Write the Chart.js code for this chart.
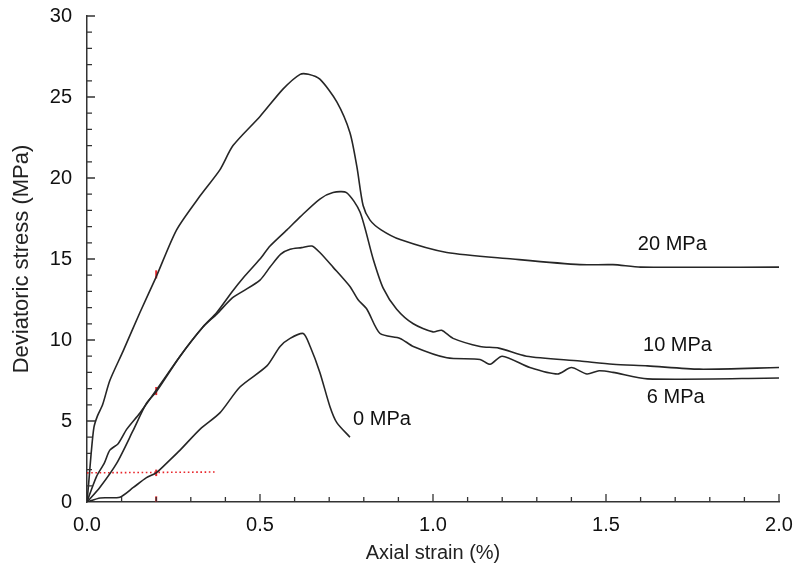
<!DOCTYPE html>
<html>
<head>
<meta charset="utf-8">
<script src="https://cdn.jsdelivr.net/npm/chart.js@4/dist/chart.umd.min.js"></script>
<style>
  html, body { margin: 0; padding: 0; background: #fff; }
  #wrap { width: 797px; height: 571px; }
</style>
</head>
<body>
<div id="wrap"><canvas id="chart"></canvas></div>
<script>
// values: axial strain (%) vs deviatoric stress (MPa)
const strain20 = [0, 0.005, 0.012, 0.02, 0.03, 0.045, 0.066, 0.104, 0.153, 0.2, 0.259, 0.327, 0.384, 0.422, 0.5, 0.567, 0.616, 0.64, 0.673, 0.722, 0.76, 0.78, 0.798, 0.818, 0.85, 0.905, 1.04, 1.23, 1.425, 1.52, 1.6, 2.0];
const stress20 = [0, 1.2, 3.0, 4.6, 5.3, 6.0, 7.5, 9.3, 11.7, 13.9, 16.8, 18.9, 20.5, 22.0, 23.8, 25.5, 26.4, 26.4, 26.1, 24.7, 22.8, 20.7, 18.3, 17.4, 16.8, 16.2, 15.4, 15.0, 14.65, 14.65, 14.5, 14.5];

const strain10 = [0, 0.01, 0.028, 0.05, 0.066, 0.09, 0.115, 0.153, 0.2, 0.269, 0.335, 0.375, 0.42, 0.45, 0.5, 0.529, 0.578, 0.616, 0.673, 0.711, 0.75, 0.789, 0.827, 0.856, 0.895, 0.943, 1.0, 1.025, 1.058, 1.136, 1.19, 1.27, 1.425, 1.52, 1.62, 1.77, 2.0];
const stress10 = [0, 0.6, 1.6, 2.4, 3.2, 3.6, 4.5, 5.5, 6.9, 9.0, 10.8, 11.7, 13.0, 13.8, 15.0, 15.8, 16.8, 17.6, 18.7, 19.1, 19.1, 17.9, 15.0, 13.2, 11.9, 11.0, 10.5, 10.6, 10.1, 9.6, 9.5, 9.0, 8.7, 8.5, 8.4, 8.2, 8.3];

const strain6 = [0, 0.037, 0.086, 0.133, 0.172, 0.2, 0.269, 0.335, 0.375, 0.42, 0.45, 0.5, 0.529, 0.56, 0.587, 0.62, 0.65, 0.673, 0.711, 0.76, 0.783, 0.809, 0.847, 0.905, 0.943, 1.04, 1.136, 1.165, 1.2, 1.28, 1.36, 1.4, 1.445, 1.48, 1.52, 1.62, 2.0];
const stress6 = [0, 0.9, 2.4, 4.4, 6.1, 6.8, 9.0, 10.8, 11.6, 12.6, 13.0, 13.7, 14.5, 15.3, 15.6, 15.7, 15.8, 15.4, 14.5, 13.3, 12.5, 11.9, 10.4, 10.1, 9.6, 8.9, 8.8, 8.5, 9.0, 8.3, 7.9, 8.3, 7.9, 8.1, 8.0, 7.6, 7.65];

const strain0 = [0, 0.038, 0.095, 0.134, 0.172, 0.2, 0.24, 0.269, 0.327, 0.384, 0.442, 0.52, 0.558, 0.587, 0.625, 0.645, 0.673, 0.702, 0.722, 0.76];
const stress0 = [0, 0.25, 0.3, 0.9, 1.5, 1.8, 2.6, 3.2, 4.5, 5.5, 7.1, 8.4, 9.6, 10.1, 10.4, 9.6, 8.0, 5.9, 4.9, 4.0];

// curve labels and where they sit
const curveLabels = ['20 MPa', '10 MPa', '6 MPa', '0 MPa'];
const labelStrain = [1.592, 1.607, 1.618, 0.769];
const labelStress = [15.9, 9.65, 6.43, 5.07];

// red reference marks (strain 0.2 %)
const refLineStrain = [0, 0.37];
const refLineStress = [1.8, 1.85];
const markStrain = 0.2;
const markStress = [[13.8, 14.3], [6.6, 7.1], [1.6, 2.0], [0, 0.35]];

function pts(xs, ys) {
    return xs.map((x, i) => ({ x: x, y: ys[i] }));
}

const curveStyle = { showLine: true, pointRadius: 0, borderColor: '#262626', borderWidth: 1.6, tension: 0.25, fill: false };

const datasets = [
    Object.assign({ label: '20 MPa', data: pts(strain20, stress20) }, curveStyle),
    Object.assign({ label: '10 MPa', data: pts(strain10, stress10) }, curveStyle),
    Object.assign({ label: '6 MPa', data: pts(strain6, stress6) }, curveStyle),
    Object.assign({ label: '0 MPa', data: pts(strain0, stress0) }, curveStyle),
    { label: 'ref', data: pts(refLineStrain, refLineStress), showLine: true, pointRadius: 0, borderColor: '#e8262b', borderWidth: 1.6, borderDash: [1.6, 2.6], tension: 0 }
];
markStress.forEach(function (m) {
    datasets.push({ label: 'mark', data: [{ x: markStrain, y: m[0] }, { x: markStrain, y: m[1] }], showLine: true, pointRadius: 0, borderColor: '#e8262b', borderWidth: 2, tension: 0 });
});

const fontFam = '"Liberation Sans", Arial, sans-serif';

// inward ticks and curve labels
const extras = {
    id: 'extras',
    afterDraw(chart) {
        const ctx = chart.ctx;
        const xs = chart.scales.x, ys = chart.scales.y;
        const x0 = xs.getPixelForValue(0), y0 = ys.getPixelForValue(0);
        ctx.save();
        ctx.strokeStyle = '#333';
        ctx.lineWidth = 1.3;
        ctx.beginPath();
        for (let i = 1; i <= 20; i++) {
            const px = xs.getPixelForValue(i / 10);
            const len = (i % 5 === 0) ? 8 : 5;
            ctx.moveTo(px, y0);
            ctx.lineTo(px, y0 - len);
        }
        for (let j = 1; j <= 30; j++) {
            const py = ys.getPixelForValue(j);
            const len = (j % 5 === 0) ? 8 : 5;
            ctx.moveTo(x0, py);
            ctx.lineTo(x0 + len, py);
        }
        ctx.stroke();

        ctx.fillStyle = '#111';
        ctx.font = '20px ' + fontFam;
        ctx.textAlign = 'left';
        ctx.textBaseline = 'middle';
        curveLabels.forEach(function (t, i) {
            ctx.fillText(t, xs.getPixelForValue(labelStrain[i]), ys.getPixelForValue(labelStress[i]));
        });
        ctx.restore();
    }
};

const ctx = document.getElementById('chart').getContext('2d');
new Chart(ctx, {
    type: 'scatter',
    data: { datasets: datasets },
    options: {
        responsive: true,
        maintainAspectRatio: false,
        animation: false,
        layout: { padding: { top: 16, right: 18, left: 0, bottom: 0 } },
        plugins: { legend: { display: false }, tooltip: { enabled: false } },
        scales: {
            x: {
                type: 'linear', min: 0, max: 2.0,
                afterFit: function (s) { s.height = 69; s.paddingLeft = 0; s.paddingRight = 0; },
                grid: { display: false, drawTicks: false },
                border: { display: true, color: '#333', width: 1.5 },
                ticks: {
                    stepSize: 0.5, padding: 11, color: '#111',
                    font: { family: fontFam, size: 20 },
                    callback: function (v) { return v.toFixed(1); }
                },
                title: {
                    display: true, text: 'Axial strain (%)', color: '#222',
                    font: { family: fontFam, size: 20 },
                    padding: { top: 0, bottom: 6 }
                }
            },
            y: {
                type: 'linear', min: 0, max: 30,
                afterFit: function (s) { s.width = 87; s.paddingTop = 0; s.paddingBottom = 0; },
                grid: { display: false, drawTicks: false },
                border: { display: true, color: '#333', width: 1.5 },
                ticks: {
                    stepSize: 5, padding: 15, color: '#111',
                    font: { family: fontFam, size: 20 }
                },
                title: {
                    display: true, text: 'Deviatoric stress (MPa)', color: '#222',
                    font: { family: fontFam, size: 22 },
                    padding: { top: 9, bottom: 0 }
                }
            }
        }
    },
    plugins: [extras]
});
</script>
</body>
</html>
